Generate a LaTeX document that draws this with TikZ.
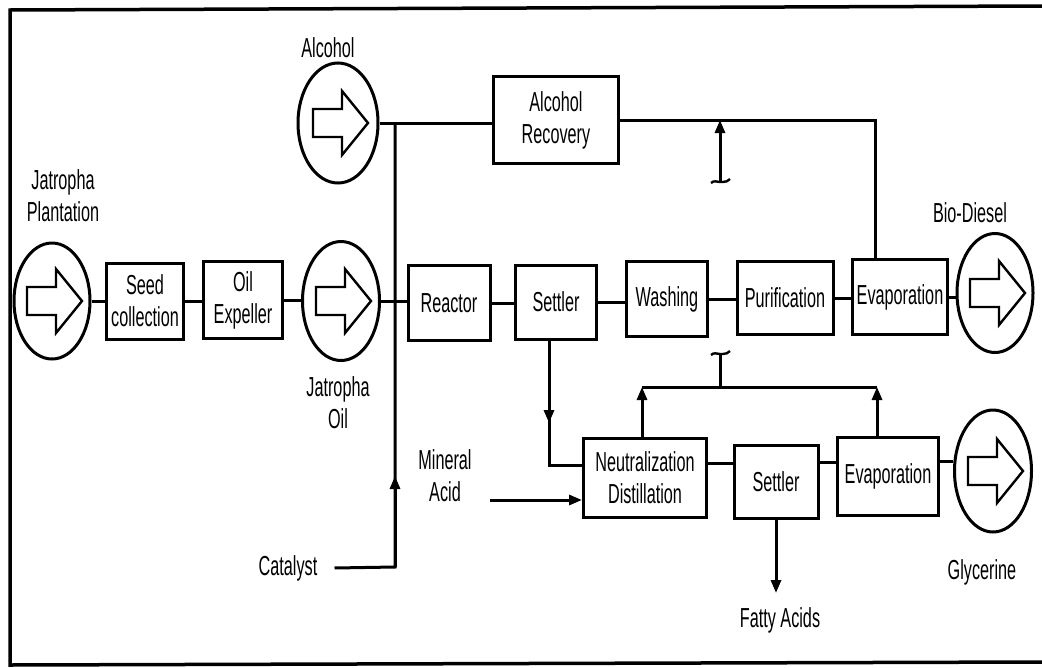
\documentclass[tikz,border=0pt]{standalone}
\usepackage{fontspec}
\setmainfont{Liberation Sans}[FakeStretch=0.59]
\usetikzlibrary{shapes.geometric,arrows.meta,calc}
\tikzset{
  ln/.style={line width=3pt},
  tip/.style={-{Triangle[length=13pt,width=10pt]}},
  circ/.style={ellipse,draw,line width=3pt,inner sep=0pt,minimum width=77pt,minimum height=119pt},
  box/.style={rectangle,draw,line width=3pt,inner sep=0pt,align=center,
    font=\fontsize{27.5}{32}\selectfont},
  lbl/.style={inner sep=0pt,align=center,font=\fontsize{27.5}{32}\selectfont},
  barrow/.pic={\draw[line width=2.4pt,line join=miter] (-25,-14) -- (4,-14) -- (4,-32) -- (30,0) -- (4,32) -- (4,14) -- (-25,14) -- cycle;},
  hook/.pic={\draw[line width=2.4pt] (-9,1) .. controls (-6,-2) and (-3,0) .. (0,0) -- (3,0) .. controls (6,0) and (8,-1) .. (10,-3);}
}
\begin{document}
\begin{tikzpicture}[x=1pt,y=-1pt]
\useasboundingbox (0,0) rectangle (1042,667);
% frame
\draw[line width=3.5pt] (1042,6) -- (10,10) -- (10,665) -- (1042,662);

% circles
\node[circ,minimum width=76pt,minimum height=116pt] (plant) at (52,301) {};
\node[circ,minimum width=80pt,minimum height=120pt] (alc) at (338,123) {};
\node[circ] (joil) at (341,301) {};
\node[circ,minimum width=76pt] (bio) at (995,293) {};
\node[circ,minimum height=122pt] (gly) at (993,471) {};
\foreach \c in {plant,alc,joil,bio,gly} \pic at (\c) {barrow};

% labels
\node[lbl] (plantlbl) at (63,196) {Jatropha\\Plantation};
\node[lbl] (alclbl) at (328,48) {Alcohol};
\node[lbl] (joillbl) at (338,403) {Jatropha\\Oil};
\node[lbl] (biolbl) at (970,213) {Bio-Diesel};
\node[lbl] (glylbl) at (982,572) {Glycerine};
\node[lbl] (cat) at (288,568) {Catalyst};
\node[lbl] (macid) at (445,476) {Mineral\\Acid};
\node[lbl] (fatty) at (780,620) {Fatty Acids};

% boxes
\node[box,minimum width=77pt,minimum height=76pt] (seed) at (145,301) {Seed\\collection};
\node[box,minimum width=79pt,minimum height=77pt] (oilexp) at (243,300) {Oil\\Expeller};
\node[box,minimum width=82pt,minimum height=75pt] (reactor) at (449,303) {Reactor};
\node[box,minimum width=81pt,minimum height=74pt] (settlerA) at (556,302) {Settler};
\node[box,minimum width=81pt,minimum height=75pt] (washing) at (667,299) {Washing};
\node[box,minimum width=96pt,minimum height=73pt] (purif) at (785,298) {Purification};
\node[box,minimum width=95pt,minimum height=75pt] (evapA) at (900,297) {Evaporation};
\node[box,minimum width=125pt,minimum height=87pt] (alcrec) at (556,120) {Alcohol\\Recovery};
\node[box,minimum width=123pt,minimum height=79pt] (neut) at (645,478) {Neutralization\\Distillation};
\node[box,minimum width=84pt,minimum height=73pt] (settlerB) at (776,482) {Settler};
\node[box,minimum width=101pt,minimum height=78pt] (evapB) at (888,476) {Evaporation};

% coordinates
\coordinate (jA) at (395,123);
\coordinate (jC) at (395,567);
\coordinate (jArr) at (395,476);
\coordinate (rT) at (875,120);
\coordinate (hkA) at (720,182);
\coordinate (hkB) at (720,354);
\coordinate (bl) at (642,387);
\coordinate (br) at (877,387);
\coordinate (sd) at (549,465);
\coordinate (sdArr) at (549,423);
\coordinate (mA) at (490,500);
\coordinate (fa) at (776,593);

% main chain
\draw[ln] (plant.east) -- (plant.east -| seed.west);
\draw[ln] (seed.east) -- (seed.east -| oilexp.west);
\draw[ln] (oilexp.east) -- (oilexp.east -| joil.west);
\draw[ln] (joil.east) -- (joil.east -| reactor.west);
\draw[ln] (reactor.east) -- (reactor.east -| settlerA.west);
\draw[ln] (settlerA.east) -- (settlerA.east -| washing.west);
\draw[ln] (washing.east) -- (washing.east -| purif.west);
\draw[ln] (purif.east) -- (purif.east -| evapA.west);
\draw[ln] (evapA.east) -- (evapA.east -| bio.west);

% alcohol and catalyst feed
\draw[ln] (alc.east) -- (alc.east -| alcrec.west);
\draw[ln] ([xshift=17pt]cat.east) -- (jC) -- (jA);
\draw[ln,tip] (jC) -- (jArr);

% alcohol recovery loop
\draw[ln] (alcrec.east) -- (rT) -- (rT |- evapA.north);
\draw[ln,tip] (hkA) -- (hkA |- rT);
\pic at (hkA) {hook};

% glycerine branch
\draw[ln] ([xshift=-7pt]settlerA.south) -- (sd) -- (sd -| neut.west);
\draw[ln,tip] ([xshift=-7pt]settlerA.south) -- (sdArr);
\draw[ln,tip] (mA) -- (mA -| neut.west);
\draw[ln,tip] (neut.north -| bl) -- (bl);
\draw[ln,tip] (evapB.north -| br) -- (br);
\draw[ln] (bl) -- (br);
\draw[ln] (hkB) -- (hkB |- bl);
\pic at (hkB) {hook};
\draw[ln] ([yshift=15pt]neut.east) -- ([yshift=15pt]neut.east -| settlerB.west);
\draw[ln] ([yshift=20pt]settlerB.east) -- ([yshift=20pt]settlerB.east -| evapB.west);
\draw[ln] ([yshift=15pt]evapB.east) -- ([yshift=15pt]evapB.east -| gly.west);
\draw[ln,tip] (settlerB.south) -- (fa);
\end{tikzpicture}
\end{document}
